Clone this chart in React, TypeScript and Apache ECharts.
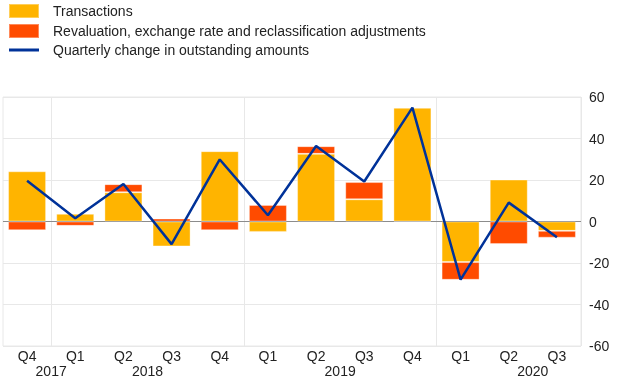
import React, { useEffect, useRef } from "react";
import * as echarts from "echarts";

const quarters = ["Q4", "Q1", "Q2", "Q3", "Q4", "Q1", "Q2", "Q3", "Q4", "Q1", "Q2", "Q3"];
const yearTicks = [
  "", "", "2017", "", "", "", "2018", "", "", "", "", "", "", "",
  "2019", "", "", "", "", "", "", "", "2020", "", "",
];
const transactions = [24.2, 3.7, 14.1, -12.0, 33.9, -5.0, 32.6, 10.7, 54.8, -19.5, 20.2, -4.5];
const revaluation = [-4.2, -2.1, 3.9, 1.4, -4.2, 8.0, 3.7, 8.3, -0.5, -8.6, -10.9, -3.3];
const quarterlyChange = [19.6, 1.6, 18.1, -10.9, 29.9, 3.0, 36.4, 19.3, 54.9, -28.0, 9.1, -7.6];

const FONT = "Liberation Sans, Arial, Helvetica, sans-serif";
const GRID_COLOR = "#e8e8e8";

export default function App() {
  const ref = useRef<HTMLDivElement>(null);
  useEffect(() => {
    if (!ref.current) return;
    const chart = echarts.init(ref.current, undefined, { renderer: "svg" });
    const yearBoundary = (index: number) => index > 0 && (index - 1) % 4 === 0;
    chart.setOption({
      animation: false,
      textStyle: { fontFamily: FONT },
      legend: {
        orient: "vertical",
        left: 8,
        top: 3,
        padding: 0,
        itemWidth: 30,
        itemHeight: 14,
        itemGap: 4,
        textStyle: { fontSize: 14, color: "#222", fontFamily: FONT, padding: [0, 0, 0, 9] },
        data: [
          { name: "Transactions", icon: "rect" },
          { name: "Revaluation, exchange rate and reclassification adjustments", icon: "rect" },
          {
            name: "Quarterly change in outstanding amounts",
            icon: "path://M0,0 L30,0 L30,3 L0,3 Z",
            itemStyle: { color: "#003299" },
          },
        ],
      },
      grid: {
        left: 1,
        right: 39,
        top: 97,
        bottom: 41,
        show: true,
        borderColor: GRID_COLOR,
        borderWidth: 1,
      },
      xAxis: [
        {
          type: "category",
          data: quarters,
          boundaryGap: true,
          axisLine: { show: false },
          axisTick: {
            show: true,
            interval: yearBoundary,
            length: 6,
            lineStyle: { color: GRID_COLOR },
          },
          splitLine: {
            show: true,
            interval: yearBoundary,
            lineStyle: { color: GRID_COLOR },
          },
          axisLabel: {
            interval: 0,
            margin: 3,
            fontSize: 14,
            color: "#222",
            fontFamily: FONT,
          },
        },
        {
          type: "category",
          data: yearTicks,
          boundaryGap: false,
          position: "bottom",
          axisLine: { show: false },
          axisTick: { show: false },
          splitLine: { show: false },
          axisLabel: {
            interval: 0,
            margin: 18,
            fontSize: 14,
            color: "#222",
            fontFamily: FONT,
          },
        },
      ],
      yAxis: {
        type: "value",
        position: "right",
        min: -60,
        max: 60,
        interval: 20,
        axisLine: { show: false },
        axisTick: { show: false },
        splitLine: { show: true, lineStyle: { color: GRID_COLOR } },
        axisLabel: { margin: 8, fontSize: 14, color: "#222", fontFamily: FONT },
      },
      series: [
        {
          name: "Transactions",
          type: "bar",
          stack: "total",
          barWidth: 38,
          data: transactions,
          itemStyle: { color: "#FFB400", borderColor: "rgba(255,255,255,0.35)", borderWidth: 1 },
        },
        {
          name: "Revaluation, exchange rate and reclassification adjustments",
          type: "bar",
          stack: "total",
          barWidth: 38,
          data: revaluation,
          itemStyle: { color: "#FF4B00", borderColor: "rgba(255,255,255,0.35)", borderWidth: 1 },
        },
        {
          name: "Quarterly change in outstanding amounts",
          type: "line",
          data: quarterlyChange,
          symbol: "none",
          z: 5,
          lineStyle: { color: "#003299", width: 2.5 },
          itemStyle: { color: "#003299" },
          markLine: {
            silent: true,
            symbol: "none",
            label: { show: false },
            lineStyle: { color: "#8c8c8c", width: 1, type: "solid" },
            data: [{ yAxis: 0 }],
            z: 1,
          },
        },
      ],
    });
    return () => chart.dispose();
  }, []);
  return (
    <div
      ref={ref}
      style={{ position: "fixed", left: 0, top: 0, width: 620, height: 387 }}
    />
  );
}
